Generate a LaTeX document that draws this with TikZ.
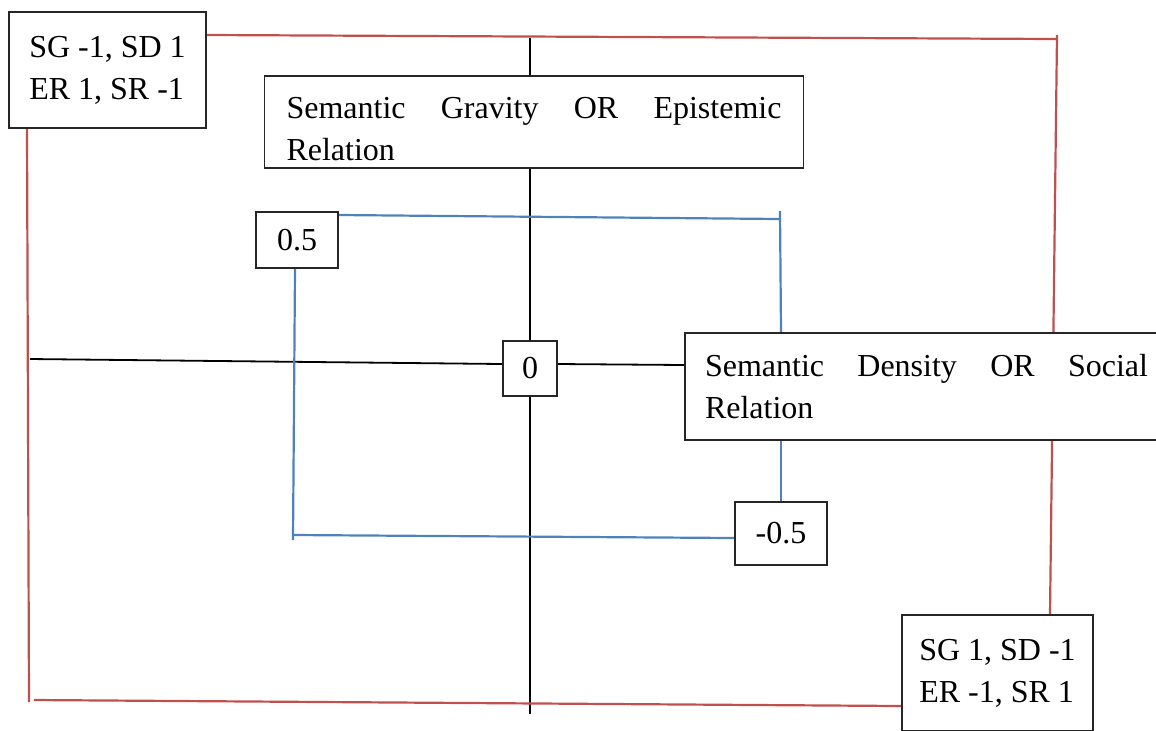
\documentclass[tikz,border=0pt]{standalone}
\usepackage{fontspec}
\setmainfont{Liberation Serif}
\usetikzlibrary{backgrounds}
\definecolor{codered}{HTML}{C0504D}
\definecolor{codeblue}{HTML}{4F81BD}
\tikzset{
  box/.style={draw=black!85, line width=0.9pt, fill=white, inner sep=0pt,
    font=\fontsize{16}{21}\selectfont},
  redline/.style={draw=codered, line width=1.1pt},
  blueline/.style={draw=codeblue, line width=1.1pt},
  axisline/.style={draw=black, line width=0.9pt},
}
\begin{document}
\begin{tikzpicture}[x=0.5pt, y=-0.5pt]
\useasboundingbox (0,0) rectangle (1156,730);
\clip (0,0) rectangle (1156,730);
% boxes
\node[box, minimum width=98.5pt, minimum height=58pt, align=left] (sgneg) at (107.5,70) {SG -1, SD 1\\ER 1, SR -1};
\node[box, minimum width=95.5pt, minimum height=58pt, align=left] (sgpos) at (997.5,673) {SG 1, SD -1\\ER -1, SR 1};
\node[box, text width=247.5pt, inner xsep=11pt, minimum height=46pt, align=left] (grav) at (534,122)
  {\rule{0pt}{17.5pt}Semantic\hfill Gravity\hfill OR\hfill Epistemic\\Relation};
\node[box, text width=221.5pt, inner xsep=10pt, minimum height=53.5pt, align=left] (dens) at (926.5,386.5)
  {Semantic\hfill Density\hfill OR\hfill Social\\Relation};
\node[box, minimum width=41pt, minimum height=28pt] (half) at (297,240) {0.5};
\node[box, minimum width=27pt, minimum height=27.5pt] (zero) at (530,368.5) {0};
\node[box, minimum width=46pt, minimum height=31.5pt] (neghalf) at (781,533.5) {-0.5};
% free ends
\coordinate (vtop) at (530,38);
\coordinate (vbot) at (530,714);
\coordinate (hleft) at (30,359);
\coordinate (rtr) at (1057,39);
\coordinate (rbl) at (34,700);
\coordinate (rlb) at (29,702);
\coordinate (btr) at (780,219);
\coordinate (bbl) at (293,535);
\begin{scope}[on background layer]
% black axes
\draw[axisline] (vtop) -- (vtop |- grav.north);
\draw[axisline] (vtop |- grav.south) -- (zero.north);
\draw[axisline] (zero.south) -- (vbot);
\draw[axisline] (hleft) -- ([yshift=2.25pt]zero.west);
\draw[axisline] ([yshift=2.25pt]zero.east) -- ([yshift=10.75pt]dens.west);
% red frame
\draw[redline] ([yshift=17.5pt]sgneg.east) -- (rtr);
\draw[redline] ([yshift=2pt]rtr) -- ([xshift=26.25pt]sgpos.north);
\draw[redline] ([xshift=-40.25pt]sgneg.south) -- (rlb);
\draw[redline] (rbl) -- ([yshift=-16.5pt]sgpos.west);
% blue frame
\draw[blueline] ([yshift=12.5pt]half.east) -- (btr);
\draw[blueline] ([yshift=4pt]btr) -- ([xshift=-72.75pt]dens.north);
\draw[blueline] ([xshift=-72.75pt]dens.south) -- (neghalf.north);
\draw[blueline] ([yshift=-2.25pt]neghalf.west) -- (bbl);
\draw[blueline] ([xshift=-1pt]half.south) -- ([yshift=-2.5pt]bbl);
\end{scope}
\end{tikzpicture}
\end{document}
